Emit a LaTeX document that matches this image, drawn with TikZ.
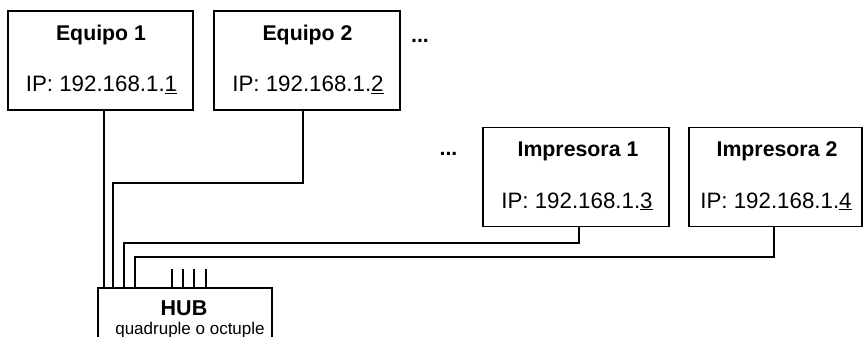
\documentclass[tikz,border=0pt]{standalone}
\usepackage{fontspec}
\setmainfont{Liberation Sans}
\begin{document}
\begin{tikzpicture}[x=1pt,y=-1pt,
  devbox/.style={draw,line width=1.1pt,rectangle,inner sep=0pt,minimum width=#1,minimum height=99pt},
  ttl/.style={anchor=base,inner sep=0pt,font=\fontsize{21.3}{25}\selectfont\bfseries},
  iptxt/.style={anchor=base,inner sep=0pt,font=\fontsize{22.3}{26}\selectfont},
  wire/.style={line width=2pt},
  hubbox/.style={draw,line width=1.1pt,rectangle,inner sep=0pt,minimum width=174pt,minimum height=60pt}]
\useasboundingbox (0,0) rectangle (863,337);
\clip (0,0) rectangle (863,337);
% boxes
\node[devbox=185pt] (e1) at (100.5,60.5) {};
\node[devbox=186pt] (e2) at (307,60.5) {};
\node[devbox=186pt] (i1) at (576,177) {};
\node[devbox=173pt] (i2) at (775.5,177) {};
\node[hubbox] (hub) at (185,318) {};
% texts
\node[ttl] (e1t) at (101,41) {Equipo 1};
\node[iptxt] (e1ip) at (101.5,92) {IP: 192.168.1.\underline{1}};
\node[ttl] (e2t) at (307.5,41) {Equipo 2};
\node[iptxt] (e2ip) at (308,92) {IP: 192.168.1.\underline{2}};
\node[ttl] (i1t) at (578,157) {Impresora 1};
\node[iptxt] (i1ip) at (577,208) {IP: 192.168.1.\underline{3}};
\node[ttl] (i2t) at (777,157) {Impresora 2};
\node[iptxt] (i2ip) at (776,208) {IP: 192.168.1.\underline{4}};
\node[ttl] (dots1) at (420,43) {...};
\node[ttl] (dots2) at (448.5,155) {...};
\node[ttl,font=\fontsize{21.5}{25}\selectfont\bfseries] (hubt) at (184,315) {HUB};
\node[anchor=base,inner sep=0pt,font=\fontsize{17}{20}\selectfont] (hubs) at (190,334) {quadruple o octuple};
% hub ports
\coordinate (h1) at (103.5,288);
\coordinate (h2) at (113,288);
\coordinate (h3) at (124,288);
\coordinate (h4) at (135,288);
\coordinate (p1) at (172,269);
\coordinate (p2) at (183,269);
\coordinate (p3) at (194,269);
\coordinate (p4) at (206,269);
% wires
\draw[wire] ([xshift=3pt]e1.south) -- (h1);
\draw[wire] ([xshift=-4pt]e2.south) -- ++(0,72) -| (h2);
\draw[wire] ([xshift=3pt]i1.south) -- ++(0,16) -| (h3);
\draw[wire] ([xshift=-1.5pt]i2.south) -- ++(0,30) -| (h4);
\foreach \p in {p1,p2,p3,p4} \draw[wire] (\p) -- (\p |- hub.north);
\end{tikzpicture}
\end{document}
